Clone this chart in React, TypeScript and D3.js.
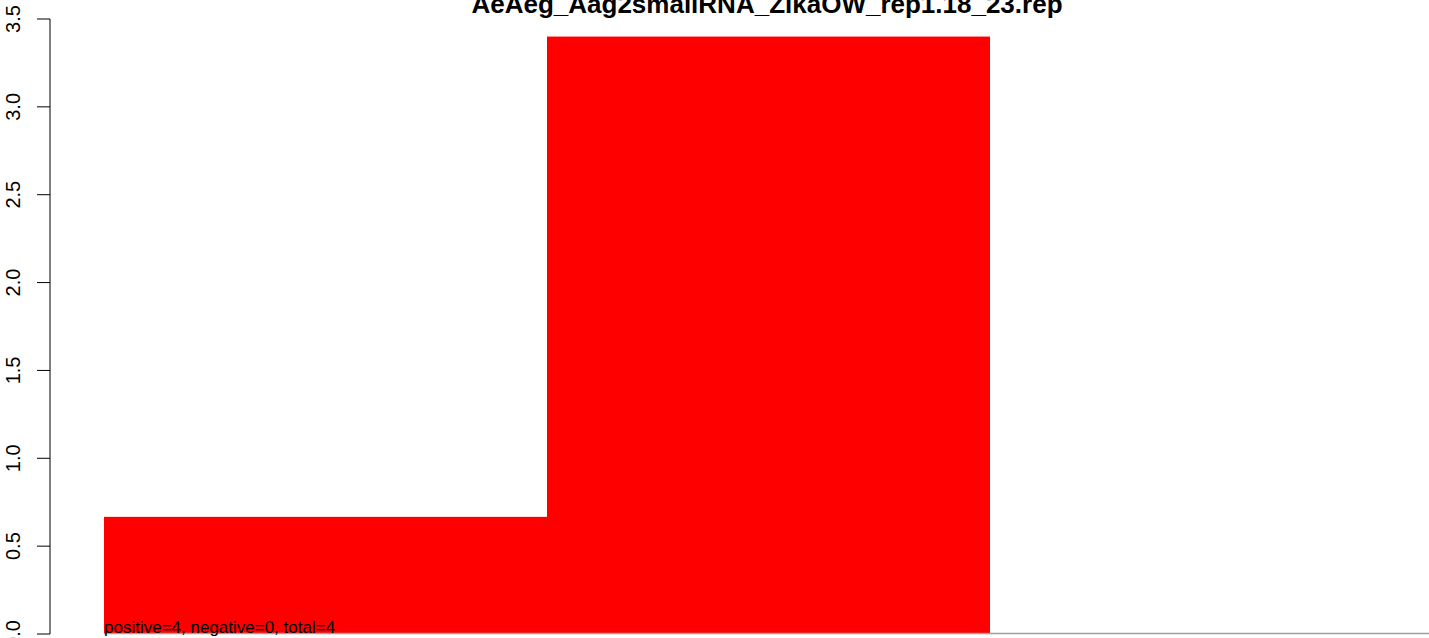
import React from 'react';
import * as d3 from 'd3';

const bins = ['a', 'b', 'c'];
const counts = [0.6667, 3.4, 0];
const yTicks = [0, 0.5, 1, 1.5, 2, 2.5, 3, 3.5];
const title = 'AeAeg_Aag2smallRNA_ZikaOW_rep1.18_23.rep';
const note = 'positive=4, negative=0, total=4';

const W = 1429;
const H = 638;
const FONT = 'Liberation Sans, Arial, sans-serif';

const App = () => {
  const x = d3.scaleBand<string>().domain(bins).range([104, 1433]).padding(0);
  const y = d3.scaleLinear().domain([0, 3.5]).range([634, 19]);

  return (
    <svg width={W} height={H} style={{ position: 'absolute', left: 0, top: 0, background: '#fff' }}>
      <text x={767} y={13} textAnchor="middle" fontFamily={FONT} fontWeight="bold" fontSize={26}>
        {title}
      </text>

      {bins.map((b, i) => (
        <rect
          key={b}
          x={x(b)}
          y={y(counts[i])}
          width={x.bandwidth()}
          height={y(0) - y(counts[i])}
          fill="#ff0000"
        />
      ))}

      {/* baseline under the bars */}
      <line x1={x.range()[0]} x2={x.range()[1]} y1={y(0) - 0.5} y2={y(0) - 0.5} stroke="#a0a0a0" strokeWidth={1.5} />

      {/* y axis */}
      <g fontFamily={FONT} fontSize={20}>
        <line x1={50} x2={50} y1={y(3.5)} y2={y(0)} stroke="#000" />
        {yTicks.map(t => (
          <g key={t}>
            <line x1={37} x2={50} y1={y(t)} y2={y(t)} stroke="#000" />
            <text
              transform={`translate(20,${y(t)}) rotate(-90)`}
              textAnchor="middle"
            >
              {t.toFixed(1)}
            </text>
          </g>
        ))}
      </g>

      <text x={104} y={633} fontFamily={FONT} fontSize={17}>
        {note}
      </text>
    </svg>
  );
};

export default App;
